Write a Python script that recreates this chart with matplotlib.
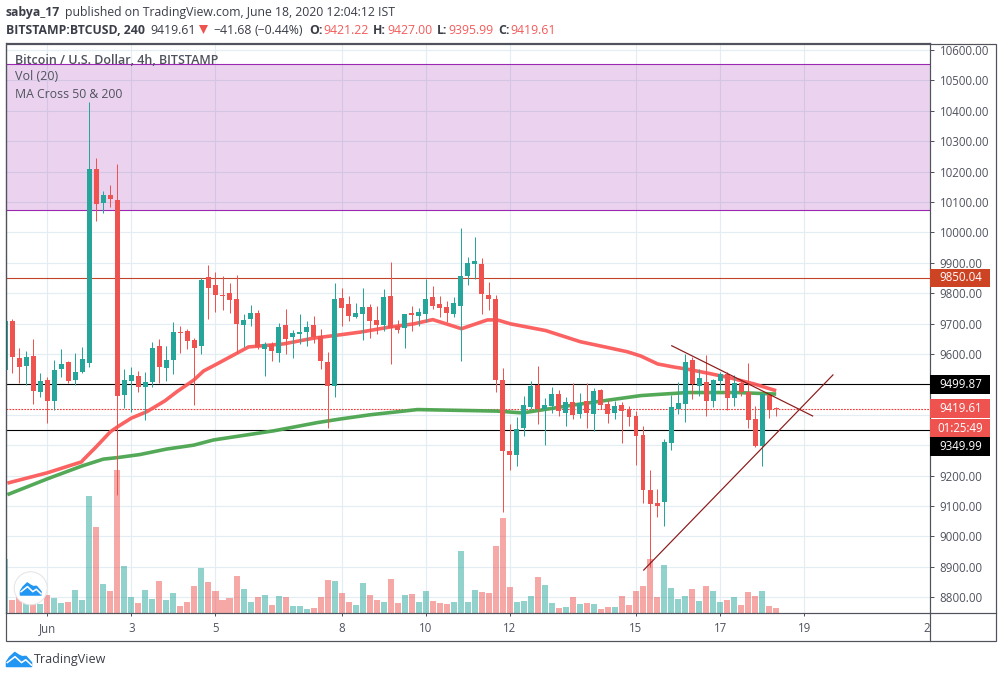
#!/usr/bin/env python3
import numpy as np
import matplotlib
matplotlib.use('Agg')
import matplotlib.pyplot as plt
from matplotlib.patches import Rectangle, Circle, Polygon
from matplotlib.transforms import Bbox

plt.rcParams['font.family'] = ['Open Sans', 'DejaVu Sans']

# 4h bars, index 0 = Jun 1 00:00, first bar sits just off the left edge
first_bar = -6
opens = [9547, 9709, 9587, 9560, 9593, 9475, 9514, 9446, 9552, 9574, 9514, 9541, 9571, 10208, 10097, 10123,
         10106, 9466, 9512, 9528, 9492, 9508, 9626, 9555, 9581, 9672, 9676, 9646, 9627, 9852, 9827, 9793,
         9801, 9781, 9695, 9715, 9735, 9616, 9632, 9603, 9695, 9656, 9666, 9672, 9695, 9659, 9574, 9495,
         9784, 9765, 9722, 9732, 9755, 9712, 9696, 9791, 9692, 9686, 9735, 9725, 9732, 9788, 9765, 9755,
         9732, 9758, 9857, 9896, 9896, 9794, 9781, 9515, 9281, 9268, 9357, 9426, 9498, 9419, 9429, 9469,
         9406, 9442, 9403, 9445, 9403, 9482, 9436, 9406, 9432, 9419, 9396, 9334, 9153, 9110, 9113, 9307,
         9420, 9436, 9580, 9495, 9508, 9445, 9511, 9534, 9455, 9505, 9475, 9386, 9297, 9465, 9421.22]
highs = [9720, 9715, 9620, 9610, 9649, 9536, 9524, 9580, 9616, 9577, 9603, 9623, 10430, 10245, 10136, 10156,
         10225, 9551, 9557, 9544, 9541, 9639, 9649, 9626, 9705, 9692, 9682, 9653, 9851, 9893, 9870, 9857,
         9834, 9860, 9732, 9761, 9745, 9639, 9639, 9702, 9748, 9679, 9732, 9708, 9725, 9682, 9607, 9834,
         9817, 9791, 9768, 9817, 9765, 9758, 9814, 9903, 9712, 9732, 9758, 9751, 9847, 9824, 9791, 9775,
         9788, 10015, 9919, 9985, 9916, 9837, 9794, 9554, 9370, 9393, 9462, 9511, 9561, 9455, 9492, 9482,
         9459, 9505, 9472, 9505, 9488, 9485, 9449, 9445, 9442, 9429, 9413, 9363, 9218, 9156, 9320, 9465,
         9508, 9600, 9590, 9551, 9597, 9518, 9541, 9541, 9531, 9515, 9570, 9429, 9468, 9468, 9427]
lows = [9540, 9538, 9503, 9499, 9436, 9459, 9374, 9416, 9523, 9504, 9499, 9536, 9558, 10038, 10065, 10084,
        9137, 9422, 9410, 9476, 9384, 9492, 9503, 9512, 9534, 9603, 9617, 9433, 9601, 9715, 9739, 9746,
        9736, 9602, 9623, 9692, 9615, 9527, 9577, 9574, 9600, 9587, 9633, 9626, 9636, 9551, 9356, 9458,
        9692, 9709, 9719, 9646, 9653, 9666, 9676, 9567, 9669, 9620, 9676, 9692, 9705, 9748, 9722, 9705,
        9722, 9577, 9827, 9847, 9732, 9745, 9475, 9081, 9218, 9232, 9330, 9420, 9370, 9301, 9406, 9396,
        9363, 9386, 9390, 9357, 9347, 9419, 9373, 9386, 9307, 9363, 9235, 9111, 8900, 9064, 9034, 9284,
        9403, 9376, 9452, 9462, 9396, 9426, 9482, 9416, 9429, 9462, 9357, 9294, 9231, 9389, 9395.99]
closes = [9710, 9591, 9558, 9590, 9479, 9510, 9446, 9547, 9567, 9511, 9541, 9583, 10208, 10094, 10123, 10110,
          9463, 9514, 9531, 9492, 9508, 9620, 9558, 9580, 9672, 9670, 9644, 9621, 9843, 9818, 9795, 9792,
          9779, 9700, 9712, 9735, 9623, 9633, 9610, 9689, 9649, 9669, 9672, 9689, 9656, 9577, 9495, 9781,
          9751, 9725, 9735, 9755, 9709, 9696, 9788, 9686, 9679, 9732, 9728, 9738, 9781, 9758, 9751, 9735,
          9768, 9857, 9900, 9906, 9798, 9781, 9515, 9282, 9266, 9353, 9432, 9495, 9419, 9432, 9469, 9413,
          9442, 9399, 9439, 9406, 9478, 9432, 9403, 9429, 9413, 9393, 9330, 9153, 9107, 9100, 9311, 9426,
          9439, 9574, 9501, 9521, 9445, 9514, 9534, 9455, 9504, 9475, 9383, 9297, 9468, 9416, 9419.61]
volumes = [160, 37, 45, 30, 30, 25, 52, 43, 28, 31, 67, 37, 349, 256, 85, 64,
           427, 139, 46, 28, 67, 40, 94, 37, 58, 19, 31, 79, 133, 91, 64, 37,
           43, 109, 70, 31, 46, 52, 22, 49, 46, 19, 19, 10, 13, 46, 97, 94,
           57, 30, 21, 87, 51, 36, 30, 99, 27, 51, 54, 30, 63, 33, 27, 24,
           30, 183, 30, 66, 60, 57, 198, 282, 75, 30, 33, 48, 105, 81, 27, 12,
           15, 45, 24, 27, 24, 9, 15, 15, 48, 21, 63, 78, 159, 45, 141, 72,
           39, 48, 69, 33, 78, 63, 30, 36, 45, 21, 60, 48, 63, 18, 12]

ma50_x = [-5.7, 0, 4.9, 5.1, 7, 9, 10, 12, 14.2, 16.8, 18.5, 20.9, 22.3, 24.2, 27.1, 28.7, 33.7, 38, 41.8, 44.7,
          49, 52.3, 55, 59.1, 62.8, 64.2, 66.1, 71.1, 76.1, 80, 82.8, 84.7, 87.1, 89.4, 91.3, 94.2, 97.5, 100.9, 104]
ma50_y = [9175, 9209, 9245, 9251, 9295, 9344, 9360, 9389, 9410, 9446, 9476, 9514, 9544, 9567, 9603, 9623, 9633, 9652, 9663, 9672,
          9689, 9699, 9713, 9683, 9712, 9712, 9699, 9677, 9640, 9621, 9607, 9593, 9567, 9557, 9550, 9537, 9521, 9501, 9479]
ma200_x = [-5.7, 0, 4.9, 8, 10, 13.2, 17, 20.9, 23.7, 32.3, 38.5, 41.8, 46.1, 52.8, 64.2, 67.8, 75.1, 80, 84.7, 86.6, 91.3, 98.5, 104]
ma200_y = [9137, 9189, 9231, 9254, 9259, 9269, 9287, 9300, 9317, 9347, 9374, 9386, 9400, 9417, 9412, 9406, 9432, 9448, 9463, 9466, 9473, 9473, 9468]

zone_top, zone_bottom = 10553, 10073
resistance = 9850.04
level_high, level_low = 9499.87, 9349.99
last_price = 9419.61
trend_down_x, trend_down_y = [89.1, 109.2], [9627, 9396]
trend_up_x, trend_up_y = [85.1, 112.1], [8889, 9531]

date_ticks = [0, 12, 24, 42, 54, 66, 84, 96, 108, 126]
date_labels = ['Jun', '3', '5', '8', '10', '12', '15', '17', '19', '22']
price_ticks = list(range(8800, 10601, 100))
hidden_prices = (9300, 9400, 9500)  # these sit behind the coloured price labels

UP, DOWN = '#26a69a', '#ef5350'
FRAME = '#50535e'
W, H = 1003, 678
PX = 0.72  # one pixel in points at dpi 100

fig = plt.figure(figsize=(W / 100, H / 100), dpi=100, facecolor='white')
ax = fig.add_axes([6.5 / W, 1 - 612.5 / H, 924 / W, 569.5 / H])
ax.set_xlim(-5.82, 126.02)
ylo, yhi = 8749.4, 10623
ax.set_ylim(ylo, yhi)
ax.set_axisbelow(True)
ax.grid(color='#e3edf3', lw=1.2 * PX)

bars = np.arange(first_bar, first_bar + len(opens))
o, h, l, c = map(np.array, (opens, highs, lows, closes))
colors = np.where(c >= o, UP, DOWN)

# volume shares the price axes, pinned to the bottom edge
vol_scale = (yhi - ylo) / 1707
ax.bar(bars, np.array(volumes) * vol_scale, bottom=ylo, width=0.86, color=colors, alpha=0.5, lw=0, zorder=1)

ax.axhspan(zone_bottom, zone_top, facecolor='#9c27b0', alpha=0.2, lw=0, zorder=1)
for lev in (zone_top, zone_bottom):
    ax.axhline(lev, color='#9c27b0', lw=1.1 * PX, zorder=2)
ax.axhline(resistance, color='#c0432a', lw=1.1 * PX, zorder=2)
ax.axhline(level_high, color='black', lw=1.1 * PX, zorder=2)
ax.axhline(level_low, color='black', lw=1.1 * PX, zorder=2)
ax.axhline(last_price, color='#f03c3c', lw=1.1 * PX, ls=(0, (1.6, 1.1)), zorder=2)

ax.plot(ma50_x, ma50_y, color='#fb5a5a', lw=3.6 * PX, alpha=0.95, zorder=3, solid_capstyle='butt')
ax.plot(ma200_x, ma200_y, color='#4aa54e', lw=3.6 * PX, alpha=0.95, zorder=3, solid_capstyle='butt')

ax.vlines(bars, l, h, colors=colors, lw=1 * PX, zorder=4)
ax.bar(bars, np.maximum(np.abs(c - o), 3), bottom=np.minimum(o, c), width=0.71, color=colors, lw=0, zorder=4)

ax.plot(trend_down_x, trend_down_y, color='#8b1a1a', lw=1.2 * PX, zorder=5)
ax.plot(trend_up_x, trend_up_y, color='#8b1a1a', lw=1.2 * PX, zorder=5)

ax.yaxis.tick_right()
ax.set_yticks(price_ticks)
ax.set_yticklabels(['' if p in hidden_prices else f'{p:.2f}' for p in price_ticks])
ax.set_xticks(date_ticks)
ax.set_xticklabels(date_labels)
ax.tick_params(axis='y', length=4 * PX, width=PX, color=FRAME, labelcolor=FRAME, labelsize=8.3, pad=3.6)
ax.tick_params(axis='x', length=3 * PX, width=PX, color=FRAME, labelcolor=FRAME, labelsize=8.3, pad=5)
for s in ax.spines.values():
    s.set_color(FRAME)
    s.set_linewidth(1.2 * PX)

# "22" runs under the price scale and only its first digit shows
cut = ax.get_xticklabels()[-1]
cut.set_clip_on(True)
cut.set_clip_box(Bbox([[0, 0], [930, H]]))

# right hand price labels
box_w = 60 / 924
box_h = 18.7 * 3.29
axis_labels = [(9850.04, '9850.04', '#cc4424'), (9499.87, '9499.87', 'black'), (9419.61, '9419.61', DOWN),
               (9356, '01:25:49', DOWN), (9296, '9349.99', 'black')]
ytrans = ax.get_yaxis_transform()
for price, txt, col in axis_labels:
    ax.add_patch(Rectangle((1.0, price - box_h / 2), box_w, box_h, transform=ytrans, clip_on=False,
                           facecolor=col, lw=0, zorder=10))
    ax.text(1.0 + box_w / 2, price, txt, transform=ytrans, color='white', fontsize=8.3, ha='center',
            va='center', zorder=11)

# pixel overlay for header, frame and logos
ov = fig.add_axes([0, 0, 1, 1], zorder=5)
ov.set_xlim(0, W)
ov.set_ylim(H, 0)
ov.axis('off')
ov.patch.set_visible(False)

ov.add_patch(Rectangle((6.5, 43.5), 989.5, 597.5, fill=False, edgecolor=FRAME, lw=1.2 * PX))
ov.plot([930.5, 930.5], [612.5, 641], color=FRAME, lw=1.2 * PX)
ov.plot([930.5, 996], [612.5, 612.5], color=FRAME, lw=1.2 * PX)


def label(x, y, s, **kw):
    kw.setdefault('fontsize', 8.8)
    kw.setdefault('color', '#3b3e48')
    ov.text(x, y, s, va='center', ha='left', **kw)


label(6, 12.5, 'sabya_17', fontweight='bold')
label(65, 12.5, 'published on TradingView.com, June 18, 2020 12:04:12 IST')
label(6, 30, 'BITSTAMP:BTCUSD, 240', fontweight='bold')
label(150, 30, '9419.61')
ov.add_patch(Polygon([[199, 25], [208, 25], [203.5, 34]], facecolor=DOWN, lw=0))
label(213, 30, '\u221241.68')
label(255, 30, '(\u22120.44%)')
for x_key, key, x_val, val in [(309, 'O:', 323, '9421.22'), (373, 'H:', 387, '9427.00'),
                               (437, 'L:', 448, '9395.99'), (498, 'C:', 510, '9419.61')]:
    label(x_key, 30, key, fontweight='bold')
    label(x_val, 30, val, color='#f45b5b')

label(15, 60, 'Bitcoin / U.S. Dollar, 4h, BITSTAMP', color=FRAME, fontweight='semibold', fontsize=9)
label(15, 77, 'Vol (20)', color=FRAME, fontsize=9)
label(15, 94, 'MA Cross 50 & 200', color=FRAME)


def cloud(x, y, w, h):
    body = [[0, .68], [.12, .35], [.33, 0], [.5, .2], [.62, .3], [.78, .28], [1, .72], [1, 1], [0, 1]]
    zig = [[.03, .72], [.34, .3], [.6, .72], [.77, .52], [1, .9]]
    ov.add_patch(Polygon([[x + a * w, y + b * h] for a, b in body], facecolor='#2196f3',
                         edgecolor='#2196f3', lw=1.5 * PX, joinstyle='round'))
    ov.plot([x + a * w for a, b in zig], [y + b * h for a, b in zig], color='white', lw=1.6 * PX)


ov.add_patch(Circle((30.7, 588.3), 16.5, facecolor='white', edgecolor='#e4e4e4', lw=1 * PX))
cloud(20.5, 583, 20.5, 12)
cloud(6.5, 652.5, 25, 14)
label(34, 659, 'TradingView', fontsize=9, color='#3b3e48')

fig.savefig('out.png', dpi=100)
